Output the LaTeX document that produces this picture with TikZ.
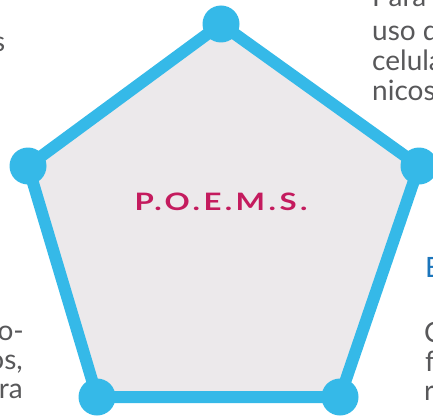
\documentclass[tikz,border=0pt]{standalone}
\usepackage{fontspec}
\setmainfont{Lato}
\newfontfamily\titlefont[LetterSpace=11]{Lato Bold}
\definecolor{penblue}{HTML}{35B9E8}
\definecolor{penfill}{HTML}{ECE9EB}
\definecolor{penmag}{HTML}{C41B5E}
\definecolor{bodygray}{HTML}{58585A}
\definecolor{headblue}{HTML}{1B75BB}
\tikzset{
  bodytext/.style={inner sep=0pt, text=bodygray, font=\fontsize{28}{30}\selectfont},
  headtext/.style={inner sep=0pt, text=headblue, font=\fontsize{28}{32}\selectfont},
  dotmark/.style={fill=penblue},
}
\begin{document}
\begin{tikzpicture}[x=1pt,y=-1pt]
\useasboundingbox (0,0) rectangle (433,417);
\coordinate (v1) at (221,24);
\coordinate (v2) at (419,166);
\coordinate (v3) at (340,397);
\coordinate (v4) at (97,397);
\coordinate (v5) at (28,166);
\filldraw[fill=penfill, draw=penblue, line width=12pt, line join=round]
  (v1) -- (v2) -- (v3) -- (v4) -- (v5) -- cycle;
\foreach \v in {v1,v2,v3,v4,v5}{\fill[dotmark] (\v) circle[radius=18.5pt];}
\node[inner sep=0pt, text=penmag, anchor=base] (title) at (221,210)
  {\scalebox{1.3}[1]{\titlefont\fontsize{24}{28}\selectfont P.O.E.M.S.}};
% top-left fragment
\node[bodytext, anchor=base east] (tl) at (5.5,52) {s};
% top-right fragments
\node[bodytext, anchor=base west] (tr1) at (372,7) {Para};
\node[bodytext, anchor=base west] (tr2) at (372,41) {uso de};
\node[bodytext, anchor=base west] (tr3) at (372,71) {celula};
\node[bodytext, anchor=base west] (tr4) at (372,101) {nicos};
% right fragments
\node[headtext, anchor=base west] (rh) at (425,277) {E};
\node[bodytext, anchor=base west] (r1) at (424,342) {C};
\node[bodytext, anchor=base west] (r2) at (425,371) {f};
\node[bodytext, anchor=base west] (r3) at (424,400) {r};
% left fragments
\node[bodytext, anchor=base east] (l1) at (24,340) {o-};
\node[bodytext, anchor=base east] (l2) at (23,369) {os,};
\node[bodytext, anchor=base east] (l3) at (23,398) {ra};
\end{tikzpicture}
\end{document}
